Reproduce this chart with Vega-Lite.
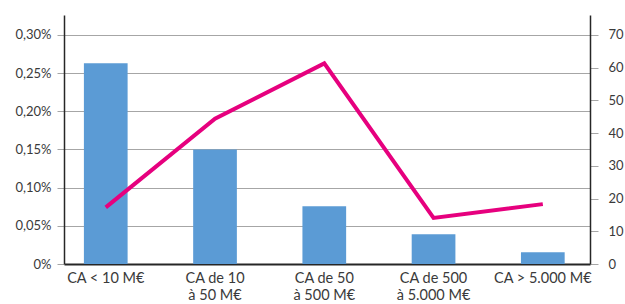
{
  "$schema": "https://vega.github.io/schema/vega-lite/v6.json",
  "autosize": {"type": "none"},
  "padding": {"left": 64, "top": 15, "right": 35, "bottom": 40},
  "width": 526,
  "height": 249,
  "background": "white",
  "config": {
    "view": {"stroke": null},
    "axis": {"labelFont": "Lato", "labelFontSize": 13, "labelColor": "#3a3a3a", "titleFont": "Lato"}
  },
  "data": {
    "values": [
      {"cat": "CA < 10 M€", "taux": 0.00263, "nb": 17.3},
      {"cat": "CA de 10|à 50 M€", "taux": 0.0015, "nb": 44.4},
      {"cat": "CA de 50|à 500 M€", "taux": 0.000756, "nb": 61.3},
      {"cat": "CA de 500|à 5.000 M€", "taux": 0.00039, "nb": 14.1},
      {"cat": "CA > 5.000 M€", "taux": 0.000153, "nb": 18.3}
    ]
  },
  "encoding": {
    "x": {
      "field": "cat",
      "type": "nominal",
      "sort": null,
      "scale": {"paddingInner": 0.6, "paddingOuter": 0.207, "align": 0.44},
      "axis": {
        "title": null,
        "labelAngle": 0,
        "labelExpr": "split(datum.label, '|')",
        "labelFontSize": 14.5,
        "labelLineHeight": 17,
        "labelPadding": 7,
        "ticks": false,
        "domainColor": "#262626",
        "domainWidth": 2,
        "labelBaseline": "top"
      }
    }
  },
  "layer": [
    {
      "mark": {"type": "bar", "color": "#5B9BD5"},
      "encoding": {
        "y": {
          "field": "taux",
          "type": "quantitative",
          "scale": {"domain": [0, 0.003262], "nice": false, "zero": true},
          "axis": {
            "title": null,
            "values": [0, 0.0005, 0.001, 0.0015, 0.002, 0.0025, 0.003],
            "labelExpr": "datum.value == 0 ? '0%' : replace(format(datum.value, '.2%'), '.', ',')",
            "grid": true,
            "gridColor": "#a6a6a6",
            "gridWidth": 1,
            "tickColor": "#a6a6a6",
            "tickSize": 7,
            "labelPadding": 6,
            "domainColor": "#262626",
            "domainWidth": 1.5
          }
        }
      }
    },
    {
      "mark": {"type": "line", "color": "#E6007E", "strokeWidth": 4, "strokeJoin": "miter", "strokeCap": "butt"},
      "encoding": {
        "x": {"field": "cat", "type": "nominal", "sort": null, "bandPosition": 0.5},
        "y": {
          "field": "nb",
          "type": "quantitative",
          "scale": {"domain": [0, 76.1], "nice": false},
          "axis": {
            "orient": "right",
            "title": null,
            "values": [0, 10, 20, 30, 40, 50, 60, 70],
            "grid": false,
            "tickColor": "#a6a6a6",
            "tickSize": 8,
            "labelPadding": 10,
            "domainColor": "#262626",
            "domainWidth": 1.5
          }
        }
      }
    }
  ],
  "resolve": {"scale": {"y": "independent"}}
}
